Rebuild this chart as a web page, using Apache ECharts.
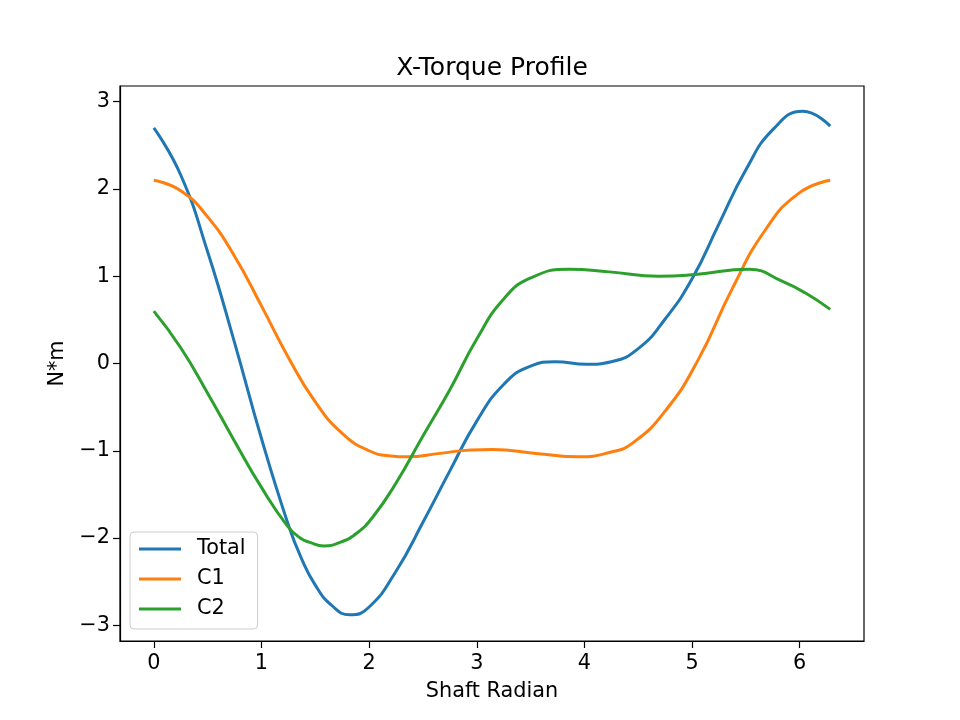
<!DOCTYPE html>
<html>
<head>
<meta charset="utf-8">
<script src="https://cdn.jsdelivr.net/npm/echarts@6/dist/echarts.min.js"></script>
<style>
  html, body { margin: 0; padding: 0; background: #fff; }
  #chart { width: 960px; height: 720px; }
</style>
</head>
<body>
<div id="chart"></div>
<script>
// points (shaft radian, N*m); extra samples at the turning points
const totalX = [0, 0.25, 0.5, 0.75, 1, 1.25, 1.37, 1.5, 1.65, 1.82, 2, 2.25, 2.5, 2.75, 3, 3.25, 3.5,
  3.73, 4.02, 4.25, 4.5, 4.75, 5, 5.25, 5.5, 5.75, 6.03, 6.283];
const totalY = [2.70, 2.16, 1.28, 0.24, -0.86, -1.85, -2.23, -2.54, -2.77, -2.88, -2.79, -2.38, -1.82,
  -1.23, -0.66, -0.24, -0.03, 0.02, -0.01, 0.02, 0.17, 0.51, 0.97, 1.60, 2.22, 2.68, 2.89, 2.72];

const c1X = [0, 0.25, 0.5, 0.75, 1, 1.25, 1.5, 1.75, 2, 2.2, 2.35, 2.66, 2.95, 3.15, 3.55, 3.95,
  4.23, 4.45, 4.76, 5.06, 5.37, 5.68, 5.99, 6.283];
const c1Y = [2.10, 1.98, 1.68, 1.23, 0.66, 0.07, -0.44, -0.80, -1.00, -1.06, -1.07, -1.03, -0.99,
  -0.985, -1.03, -1.07, -1.02, -0.91, -0.53, 0.05, 0.85, 1.53, 1.95, 2.10];

const c2X = [0, 0.25, 0.5, 0.75, 1, 1.24, 1.36, 1.45, 1.58, 1.73, 1.89, 2.04, 2.25, 2.5, 2.75, 3,
  3.25, 3.5, 3.86, 4.23, 4.69, 5.03, 5.53, 5.84, 6.05, 6.283];
const c2Y = [0.60, 0.18, -0.34, -0.89, -1.42, -1.86, -2.00, -2.05, -2.09, -2.05, -1.94, -1.75,
  -1.37, -0.83, -0.30, 0.28, 0.74, 0.98, 1.08, 1.05, 1.00, 1.02, 1.08, 0.94, 0.81, 0.62];

const xTicks = [0, 1, 2, 3, 4, 5, 6];
const yTicks = [-3, -2, -1, 0, 1, 2, 3];

const FONT = 'DejaVu Sans';

function pairs(xs, ys) {
  return xs.map((x, i) => [x, ys[i]]);
}

function minusSign(v) {
  return String(v).replace('-', '\u2212');
}

function lineSeries(name, xs, ys, color) {
  return {
    name,
    type: 'line',
    smooth: 0.5,
    symbol: 'none',
    data: pairs(xs, ys),
    lineStyle: { color, width: 3 },
    itemStyle: { color },
  };
}

function axisBase() {
  return {
    type: 'value',
    nameLocation: 'middle',
    nameTextStyle: { fontFamily: FONT, fontSize: 20.8, color: '#000' },
    axisLine: { show: true, onZero: false, lineStyle: { color: '#000', width: 1.2 } },
    splitLine: { show: false },
  };
}

const chart = echarts.init(document.getElementById('chart'));
chart.setOption({
  animation: false,
  backgroundColor: '#fff',
  title: {
    text: 'X-Torque Profile',
    left: 492,
    textAlign: 'center',
    top: 56,
    padding: 0,
    textStyle: { fontFamily: FONT, fontSize: 25, fontWeight: 'normal', color: '#000' },
  },
  legend: {
    orient: 'vertical',
    left: 130,
    top: 532,
    padding: [5, 12, 8, 9],
    itemGap: 6,
    itemWidth: 42,
    itemHeight: 3,
    icon: 'rect',
    borderColor: '#cccccc',
    borderWidth: 1,
    borderRadius: 4,
    backgroundColor: 'rgba(255,255,255,0.8)',
    textStyle: { fontFamily: FONT, fontSize: 20.8, color: '#000', lineHeight: 24, padding: [0, 0, 0, 11] },
    data: ['Total', 'C1', 'C2'],
  },
  grid: {
    left: 120, top: 86, width: 744, height: 555,
    show: true, borderColor: '#000', borderWidth: 1.2, backgroundColor: 'transparent',
  },
  xAxis: Object.assign(axisBase(), {
    min: -0.314,
    max: 6.597,
    name: 'Shaft Radian',
    nameGap: 40,
    axisTick: { show: true, length: 7, lineStyle: { color: '#000', width: 1.2 }, customValues: xTicks },
    axisLabel: { fontFamily: FONT, fontSize: 20.8, color: '#000', margin: 12, customValues: xTicks },
  }),
  yAxis: Object.assign(axisBase(), {
    min: -3.18,
    max: 3.18,
    name: 'N*m',
    nameGap: 52,
    axisTick: { show: true, length: 7, lineStyle: { color: '#000', width: 1.2 }, customValues: yTicks },
    axisLabel: { fontFamily: FONT, fontSize: 20.8, color: '#000', margin: 10, customValues: yTicks, formatter: minusSign },
  }),
  series: [
    lineSeries('Total', totalX, totalY, '#1f77b4'),
    lineSeries('C1', c1X, c1Y, '#ff7f0e'),
    lineSeries('C2', c2X, c2Y, '#2ca02c'),
  ],
});
</script>
</body>
</html>
